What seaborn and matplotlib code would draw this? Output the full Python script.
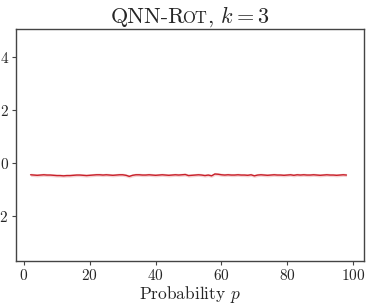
import matplotlib
matplotlib.use("Agg")
import matplotlib.pyplot as plt
import pandas as pd
import seaborn as sns

# probability p (percent) and mean output
p = list(range(2, 99))
mean = [
    -0.45, -0.46, -0.47, -0.46, -0.45, -0.46, -0.46, -0.47, -0.48, -0.48,
    -0.49, -0.48, -0.48, -0.47, -0.46, -0.46, -0.47, -0.48, -0.47, -0.46,
    -0.45, -0.45, -0.46, -0.45, -0.46, -0.47, -0.46, -0.45, -0.45, -0.47,
    -0.51, -0.47, -0.45, -0.45, -0.46, -0.46, -0.45, -0.46, -0.47, -0.46,
    -0.45, -0.46, -0.47, -0.46, -0.45, -0.46, -0.45, -0.44, -0.48, -0.47,
    -0.46, -0.45, -0.46, -0.48, -0.46, -0.49, -0.42, -0.43, -0.45, -0.46,
    -0.45, -0.46, -0.46, -0.45, -0.46, -0.46, -0.47, -0.45, -0.49, -0.46,
    -0.45, -0.46, -0.47, -0.46, -0.45, -0.46, -0.46, -0.47, -0.46, -0.45,
    -0.47, -0.45, -0.46, -0.45, -0.46, -0.46, -0.45, -0.46, -0.47, -0.46,
    -0.45, -0.46, -0.46, -0.47, -0.46, -0.45, -0.46,
]
spread = [0.06] * len(p)

df = pd.DataFrame({"p": p, "mean": mean, "sd": spread})

sns.set_style("ticks")
plt.rcParams["font.family"] = "serif"
plt.rcParams["font.serif"] = ["cmr10"]
plt.rcParams["mathtext.fontset"] = "cm"
plt.rcParams["axes.formatter.use_mathtext"] = True

fig, ax = plt.subplots(figsize=(3.74, 3.04), dpi=100)
fig.subplots_adjust(left=0.043, right=0.973, top=0.905, bottom=0.142)

ax.fill_between(df["p"], df["mean"] - df["sd"], df["mean"] + df["sd"],
                color="#d62728", alpha=0.2, linewidth=0)
sns.lineplot(data=df, x="p", y="mean", color="#c8202a", linewidth=1.0, ax=ax)

ax.set_xlim(-2.4, 103.3)
ax.set_ylim(-3.7, 5.06)
ax.set_xticks([0, 20, 40, 60, 80, 100])
ax.set_yticks([-2, 0, 2, 4])
ax.set_xlabel(r"Probability $p$", fontsize=12.5, labelpad=1)
ax.set_ylabel("")
ax.tick_params(labelsize=11, length=3, color="#444444", pad=2)
for s in ax.spines.values():
    s.set_color("#444444")
    s.set_linewidth(1.0)

# title with small caps "Rot": three pieces on one baseline
pieces = [("QNN-R", 16), ("OT", 12), (r", $k=3$", 16)]
kern = [-3.5, 0, 0]
base_y = 1 - 23 / 304
texts = [fig.text(0, base_y, s, fontsize=fs, va="baseline", ha="left")
         for s, fs in pieces]
fig.canvas.draw()
r = fig.canvas.get_renderer()
widths = [t.get_window_extent(r).width + k for t, k in zip(texts, kern)]
x = (fig.bbox.width - sum(widths)) / 2 + fig.bbox.width * 0.008
for t, w in zip(texts, widths):
    t.set_x(x / fig.bbox.width)
    x += w

fig.savefig("out.png", dpi=100)
